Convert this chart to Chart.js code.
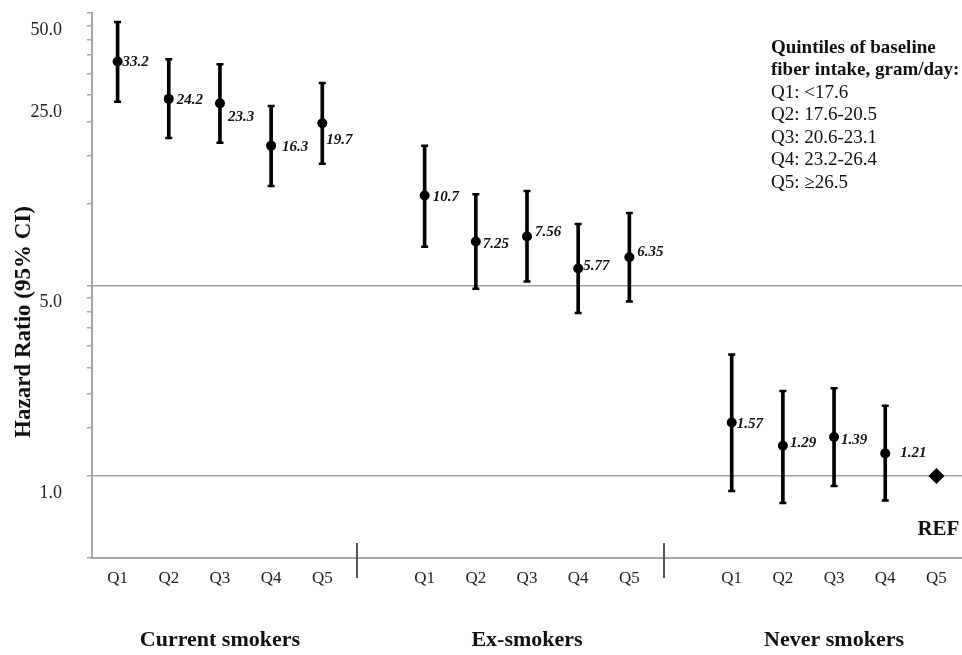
<!DOCTYPE html>
<html>
<head>
<meta charset="utf-8">
<script src="https://cdn.jsdelivr.net/npm/chart.js@4.4.0/dist/chart.umd.min.js"></script>
<style>
  body { margin: 0; background: #fff; }
  #wrap { width: 962px; height: 655px; }
</style>
</head>
<body>
<div id="wrap"><canvas id="hr-chart"></canvas></div>
<script>
const groups = ['Current smokers', 'Ex-smokers', 'Never smokers'];
const quintiles = ['Q1', 'Q2', 'Q3', 'Q4', 'Q5'];

// hazard ratios with 95% CI, never smokers Q5 is the reference (1.0)
const currentHR = [33.2, 24.2, 23.3, 16.3, 19.7];
const currentLow = [23.6, 17.4, 16.7, 11.6, 14.0];
const currentHigh = [46.3, 33.8, 32.4, 22.8, 27.7];
const exHR = [10.7, 7.25, 7.56, 5.77, 6.35];
const exLow = [6.94, 4.86, 5.17, 3.96, 4.37];
const exHigh = [16.3, 10.8, 11.1, 8.41, 9.22];
const neverHR = [1.57, 1.29, 1.39, 1.21];
const neverLow = [0.881, 0.795, 0.919, 0.812];
const neverHigh = [2.79, 2.05, 2.10, 1.81];
const refHR = 1.0;

const yTicks = [0.5, 1, 1.5, 2, 2.5, 3, 3.5, 4, 4.5, 5, 10, 15, 20, 25, 30, 35, 40, 45, 50];
const yTickLabels = { 1: '1.0', 5: '5.0', 25: '25.0', 50: '50.0' };
const legendLines = ['Quintiles of baseline', 'fiber intake, gram/day:', 'Q1: <17.6', 'Q2: 17.6-20.5', 'Q3: 20.6-23.1', 'Q4: 23.2-26.4', 'Q5: \u226526.5'];

// little nudges so the value labels sit like in the original figure
const labelNudge = [[5, 1], [8, 1], [8, 14], [11, 1], [4, 17], null,
  [8, 2], [7, 3], [8, -4], [5, -2], [8, -5], null,
  [5, 2], [7, -3], [7, 3], [15, 0], null];

const SERIF = "'Liberation Serif', 'Times New Roman', serif";

const labels = [...quintiles, '', ...quintiles, '', ...quintiles];
const hr = [...currentHR, null, ...exHR, null, ...neverHR, null];
const lows = [...currentLow, null, ...exLow, null, ...neverLow, null];
const highs = [...currentHigh, null, ...exHigh, null, ...neverHigh, null];
const bars = lows.map((lo, i) => lo == null ? null : [lo, highs[i]]);
const refData = labels.map((_, i) => i === labels.length - 1 ? refHR : null);

const decor = {
  id: 'decor',
  afterDraw(chart) {
    const { ctx, scales: { x, y } } = chart;
    const slot = x.getPixelForValue(1) - x.getPixelForValue(0);
    ctx.save();

    // dividers between smoking groups
    ctx.strokeStyle = '#555';
    ctx.lineWidth = 2;
    [4, 10].forEach(i => {
      const px = Math.round(x.getPixelForValue(i) + 0.68 * slot);
      ctx.beginPath();
      ctx.moveTo(px, y.bottom - 15);
      ctx.lineTo(px, y.bottom + 20);
      ctx.stroke();
    });

    // group names under each block
    ctx.fillStyle = '#111';
    ctx.textAlign = 'center';
    ctx.textBaseline = 'middle';
    ctx.font = 'bold 22px ' + SERIF;
    groups.forEach((g, k) => {
      ctx.fillText(g, x.getPixelForValue(k * 6 + 2), 640);
    });

    // value labels
    const pts = chart.getDatasetMeta(0).data;
    ctx.font = 'italic bold 15px ' + SERIF;
    ctx.textAlign = 'left';
    hr.forEach((v, i) => {
      if (v == null) return;
      const n = labelNudge[i] || [6, 0];
      ctx.fillText(String(v), pts[i].x + n[0], pts[i].y + n[1]);
    });

    // REF marker label
    ctx.textAlign = 'center';
    ctx.font = 'bold 21px ' + SERIF;
    ctx.fillText('REF', x.getPixelForValue(labels.length - 1) + 2, y.getPixelForValue(refHR) + 54);

    // quintile legend
    ctx.textAlign = 'left';
    legendLines.forEach((t, i) => {
      ctx.font = (i < 2 ? 'bold ' : '') + '19px ' + SERIF;
      ctx.fillText(t, 771, 48 + i * 22.5);
    });

    // y axis title
    ctx.translate(24, 322);
    ctx.rotate(-Math.PI / 2);
    ctx.textAlign = 'center';
    ctx.font = 'bold 23px ' + SERIF;
    ctx.fillText('Hazard Ratio (95% CI)', 0, 0);
    ctx.restore();
  }
};

new Chart(document.getElementById('hr-chart'), {
  type: 'bar',
  data: {
    labels: labels,
    datasets: [
      {
        type: 'line',
        data: hr,
        showLine: false,
        pointRadius: 5,
        pointBackgroundColor: '#000',
        pointBorderWidth: 0
      },
      {
        type: 'line',
        data: refData,
        showLine: false,
        pointStyle: 'rectRot',
        pointRadius: 8,
        pointBackgroundColor: '#000',
        pointBorderWidth: 0
      },
      {
        type: 'line',
        data: lows,
        showLine: false,
        pointStyle: 'line',
        pointRadius: 3.5,
        pointBorderWidth: 2.5,
        pointBorderColor: '#000'
      },
      {
        type: 'line',
        data: highs,
        showLine: false,
        pointStyle: 'line',
        pointRadius: 3.5,
        pointBorderWidth: 2.5,
        pointBorderColor: '#000'
      },
      {
        data: bars,
        backgroundColor: '#000',
        barThickness: 3
      }
    ]
  },
  options: {
    responsive: true,
    maintainAspectRatio: false,
    animation: false,
    layout: { autoPadding: false, padding: { top: 13, bottom: 67, left: 0, right: 0 } },
    plugins: {
      legend: { display: false },
      tooltip: { enabled: false }
    },
    scales: {
      x: {
        offset: true,
        afterFit: axis => {
          axis.height = 30;
          axis.paddingLeft = 0;
          axis.paddingRight = 0;
        },
        grid: { display: false, drawTicks: false },
        border: { color: '#a6a6a6', width: 2 },
        ticks: {
          padding: 10,
          autoSkip: false,
          maxRotation: 0,
          color: '#222',
          font: { family: SERIF, size: 17 }
        }
      },
      y: {
        type: 'logarithmic',
        min: 0.5,
        max: 50,
        afterBuildTicks: axis => { axis.ticks = yTicks.map(v => ({ value: v })); },
        afterFit: axis => {
          axis.width = 92;
          axis.paddingTop = 0;
          axis.paddingBottom = 0;
        },
        border: { color: '#a6a6a6', width: 2 },
        grid: {
          color: c => (c.tick && (c.tick.value === 1 || c.tick.value === 5)) ? '#a0a0a0' : 'rgba(0,0,0,0)',
          lineWidth: 1.5,
          tickColor: '#a6a6a6',
          tickLength: 5,
          tickWidth: 1.5
        },
        ticks: {
          autoSkip: false,
          padding: 25,
          labelOffset: 17,
          color: '#222',
          font: { family: SERIF, size: 18 },
          callback: v => yTickLabels[v] || ''
        }
      }
    }
  },
  plugins: [decor]
});
</script>
</body>
</html>
